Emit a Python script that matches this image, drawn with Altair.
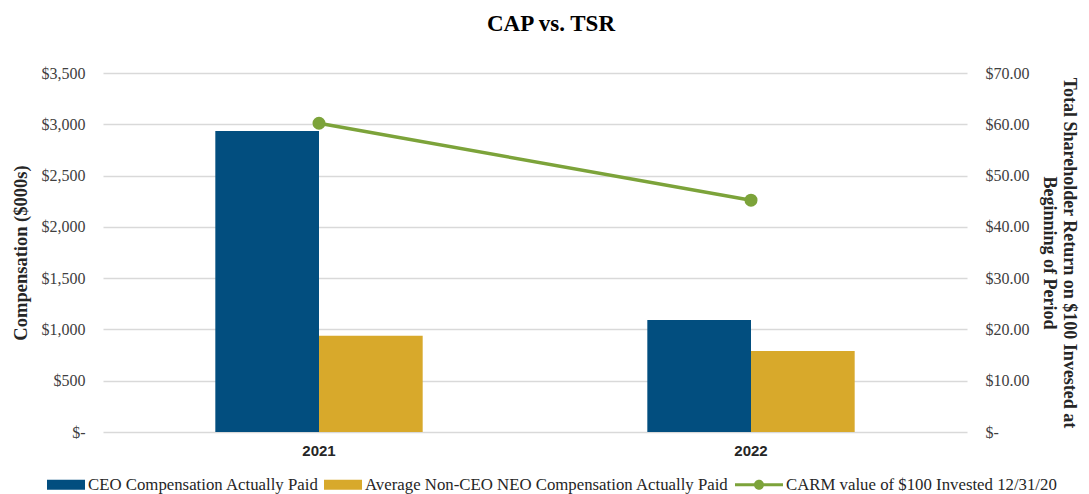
import altair as alt
import pandas as pd

years = ["2021", "2022"]
ceo_cap = [2935, 1092]
neo_cap = [939, 790]
tsr = [60.2, 45.2]

s_ceo = "CEO Compensation Actually Paid"
s_neo = "Average Non-CEO NEO Compensation Actually Paid"
s_tsr = "CARM value of $100 Invested 12/31/20"
series = [s_ceo, s_neo, s_tsr]
colors = ["#024e7f", "#d8a92b", "#7ca33a"]

bars_df = pd.DataFrame({
    "Year": years * 2,
    "Series": [s_ceo] * len(years) + [s_neo] * len(years),
    "Value": ceo_cap + neo_cap,
})
line_df = pd.DataFrame({"Year": years, "TSR": tsr, "Series": [s_tsr] * len(years)})

serif = "Liberation Serif"
color_scale = alt.Scale(domain=series, range=colors)

rect_path = "M-1,-0.244H0.854V0.244H-1Z"
line_path = ("M-1.488,-0.073H0.854V0.073H-1.488Z "
             "M-0.073,0A0.244,0.244 0 1,1 -0.561,0A0.244,0.244 0 1,1 -0.073,0Z")

legend = alt.Legend(
    title=None, orient="none", direction="horizontal",
    legendX=-56, legendY=391, padding=0,
    symbolSize=1681, labelOffset=0, columnPadding=5,
    symbolType={"expr": f"indexof(datum.value, 'CARM') == 0 ? '{line_path}' : '{rect_path}'"},
    symbolStrokeWidth=0, symbolOpacity=1,
    labelFont=serif, labelFontSize=16.8, labelColor="#262626", labelLimit=500,
)

x_enc = alt.X("Year:N", scale=alt.Scale(paddingInner=0.52, paddingOuter=0.26),
              axis=alt.Axis(title=None, labelAngle=0, domain=False, ticks=False,
                            labelFont="Liberation Sans", labelFontWeight="bold",
                            labelFontSize=15, labelColor="#262626", labelPadding=11))

bars = alt.Chart(bars_df).mark_bar().encode(
    x=x_enc,
    xOffset=alt.XOffset("Series:N", sort=[s_ceo, s_neo]),
    y=alt.Y("Value:Q", scale=alt.Scale(domain=[0, 3500], nice=False),
            axis=alt.Axis(title="Compensation ($000s)", values=list(range(0, 3501, 500)),
                          labelExpr="datum.value == 0 ? '$-\u00a0\u00a0\u00a0' : format(datum.value, '$,.0f')",
                          domain=False, ticks=False, labelPadding=18,
                          labelFont=serif, labelFontSize=16, labelColor="#404040",
                          titleFont=serif, titleFontSize=18.5, titleFontWeight="bold",
                          titleColor="#262626", titlePadding=11,
                          gridColor="#d9d9d9", gridWidth=1.5)),
    color=alt.Color("Series:N", scale=color_scale, legend=legend),
)

line = alt.Chart(line_df).mark_line(strokeWidth=3.5, point=alt.OverlayMarkDef(size=170, filled=True, opacity=1)).encode(
    x=alt.X("Year:N"),
    y=alt.Y("TSR:Q", scale=alt.Scale(domain=[0, 70], nice=False),
            axis=alt.Axis(orient="right", title=["Total Shareholder Return on $100 Invested at", "Beginning of Period"],
                          values=list(range(0, 71, 10)),
                          labelExpr="datum.value == 0 ? '$-' : format(datum.value, '$.2f')",
                          domain=False, ticks=False, grid=False, labelPadding=18,
                          labelFont=serif, labelFontSize=16, labelColor="#404040",
                          titleFont=serif, titleFontSize=18, titleFontWeight="bold",
                          titleColor="#262626", titlePadding=10)),
    color=alt.Color("Series:N", scale=color_scale, legend=legend),
)

chart = alt.layer(bars, line).resolve_scale(y="independent").properties(
    width=864, height=359,
    title=alt.Title("CAP vs. TSR", font=serif, fontSize=23, fontWeight="bold",
                    color="#000000", anchor="middle", dx=16, offset=29),
    autosize=alt.AutoSizeParams(type="none"),
    padding={"left": 95, "top": 65, "right": 114, "bottom": 62},
).configure_view(stroke=None)

chart.save("out.html", embed_options={"renderer": "svg", "actions": False})
